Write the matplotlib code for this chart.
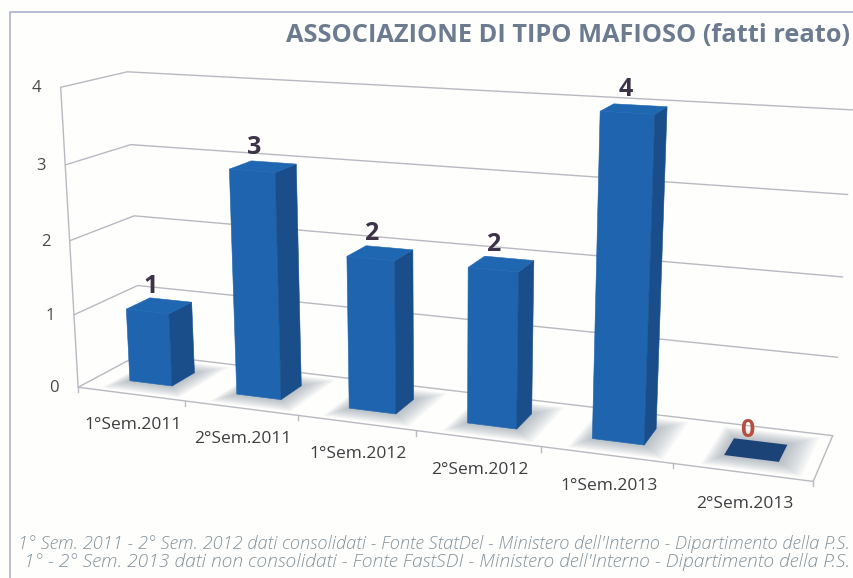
import matplotlib
matplotlib.use('Agg')
import matplotlib.pyplot as plt
from matplotlib.patches import Polygon
import numpy as np

categories = ['1°Sem.2011', '2°Sem.2011', '1°Sem.2012', '2°Sem.2012', '1°Sem.2013', '2°Sem.2013']
values = [1, 3, 2, 2, 4, 0]
y_ticks = [0, 1, 2, 3, 4]
title = 'ASSOCIAZIONE DI TIPO MAFIOSO (fatti reato)'
note_1 = "1° Sem. 2011 - 2° Sem. 2012 dati consolidati - Fonte StatDel - Ministero dell'Interno - Dipartimento della P.S."
note_2 = "1° - 2° Sem. 2013 dati non consolidati - Fonte FastSDI - Ministero dell'Interno - Dipartimento della P.S."

# Camera calibration: chart corners (category, value, depth) -> image pixel
box = [(0, 0, 0), (0, 4, 0), (0, 0, 1), (0, 4, 1), (6, 4, 1), (6, 0, 1), (6, 0, 0)]
pix = [(79, 387), (60, 87), (140, 354), (128, 72), (853, 110), (833, 435), (813, 482)]

rows, rhs = [], []
for (a, b, c), (px, py) in zip(box, pix):
    rows.append([a, b, c, 1, 0, 0, 0, 0, -px * a, -px * b, -px * c])
    rows.append([0, 0, 0, 0, a, b, c, 1, -py * a, -py * b, -py * c])
    rhs += [px, py]
cam = np.append(np.linalg.lstsq(np.array(rows, float), np.array(rhs, float), rcond=None)[0], 1).reshape(3, 4)


def proj(u, v, d):
    p = cam @ np.array([u, v, d, 1.0])
    return p[0] / p[2], p[1] / p[2]


fig = plt.figure(figsize=(8.54, 5.78), dpi=100, facecolor='#fefefc')
ax = fig.add_axes([0, 0, 1, 1])
ax.set_xlim(0, 854)
ax.set_ylim(578, 0)
ax.axis('off')

# page frame
ax.plot([10, 10, 854], [578, 12, 12], color='#b4b8cc', lw=1.3)

grid_col = '#b9b9c1'


def line3d(pts, **kw):
    xy = np.array([proj(*p) for p in pts])
    ax.plot(xy[:, 0], xy[:, 1], color=grid_col, solid_capstyle='round', **kw)


for v in y_ticks:
    line3d([(0, v, 0), (0, v, 1), (6, v, 1)], lw=1.0, zorder=1)
    x, y = proj(0, v, 0)
    ax.text(x - 24, y + 1, str(v), fontsize=12, color='#4a4a4e', family='Open Sans', ha='center', va='center')
line3d([(0, 0, 0), (0, 4, 0)], lw=1.0, zorder=1)
line3d([(0, 0, 0), (6, 0, 0), (6, 0, 1)], lw=1.0, zorder=1)

# ticks along the front edge
for i in range(7):
    x, y = proj(i, 0, 0)
    ax.plot([x, x], [y, y + 5], color=grid_col, lw=1.0, zorder=1)

half_w = 0.2
d0, d1 = 0.3, 0.68

for i, val in enumerate(values):
    c = i + 0.51
    u0, u1 = c - half_w, c + half_w

    # soft shadow on the floor
    for grow in np.linspace(0.2, 0.0, 12):
        g_d = grow * 1.2
        corners = [proj(u0 - grow * 0.6, 0, d0 - g_d), proj(u1 + grow, 0, d0 - g_d),
                   proj(u1 + grow, 0, d1 + g_d), proj(u0 - grow * 0.6, 0, d1 + g_d)]
        ax.add_patch(Polygon(corners, closed=True, fc='#7f8a9c', ec='none', alpha=0.06, zorder=2 + i))

    top = [proj(u0, val, d0), proj(u1, val, d0), proj(u1, val, d1), proj(u0, val, d1)]
    if val == 0:
        ax.add_patch(Polygon(top, closed=True, fc='#1c4378', ec='none', zorder=3 + i))
    else:
        front = [proj(u0, 0, d0), proj(u1, 0, d0), proj(u1, val, d0), proj(u0, val, d0)]
        side = [proj(u1, 0, d0), proj(u1, 0, d1), proj(u1, val, d1), proj(u1, val, d0)]
        ax.add_patch(Polygon(front, closed=True, fc='#1f64ae', ec='#1f64ae', lw=0.4, zorder=3 + i))
        ax.add_patch(Polygon(side, closed=True, fc='#194e8b', ec='#194e8b', lw=0.4, zorder=3 + i))
        ax.add_patch(Polygon(top, closed=True, fc='#2067b2', ec='#2067b2', lw=0.4, zorder=3 + i))

    # value label above the bar
    x, y = proj(c, val, 0.5)
    ax.text(x - 9, y - 19, str(val), fontsize=18, fontweight='bold', family='Open Sans',
            color='#b5503f' if val == 0 else '#3d3348', ha='center', va='center', zorder=20)

    # category label under the front edge
    x, y = proj(c, 0, 0)
    ax.text(x + 1, y + 31, categories[i], fontsize=12.5, color='#3e3e42', family='Open Sans',
            ha='center', va='center', zorder=20)

ax.text(850, 35, title, fontsize=18.3, fontweight='bold', family='Open Sans', color='#6c7b8f',
        ha='right', va='center')
ax.text(850, 544, note_1, fontsize=13.15, style='italic', weight='light', family='Open Sans', color='#83919a', ha='right', va='center')
ax.text(850, 562, note_2, fontsize=13.9, style='italic', weight='light', family='Open Sans', color='#83919a', ha='right', va='center')

fig.savefig('out.png', dpi=100, facecolor=fig.get_facecolor())
